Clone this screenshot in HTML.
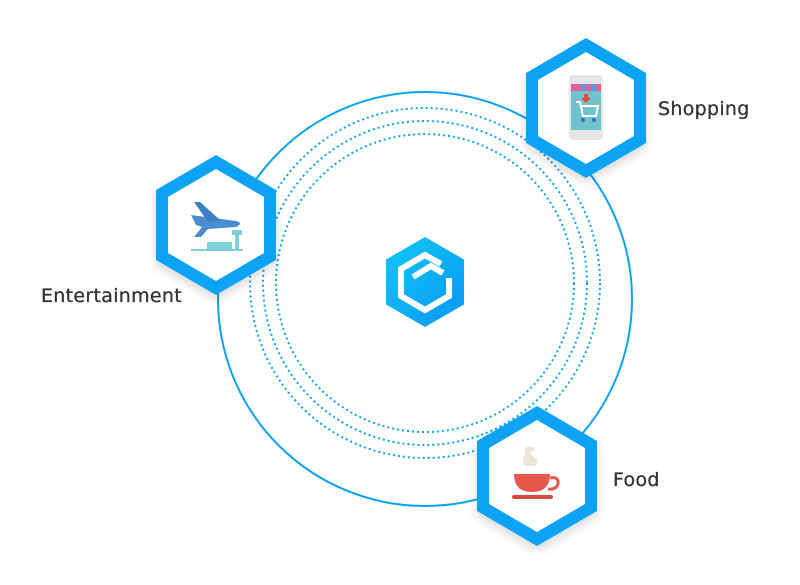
<!DOCTYPE html>
<html><head><style>
body{margin:0;background:#fff;width:800px;height:585px;overflow:hidden;font-family:"DejaVu Sans",sans-serif}
.l{position:absolute;font-size:19px;color:#333;letter-spacing:0.3px;-webkit-text-stroke:0.3px #333}
</style></head><body>
<svg width="800" height="585" style="position:absolute;left:0;top:0">
<defs>
<filter id="sh" x="-30%" y="-30%" width="160%" height="160%"><feDropShadow dx="0" dy="5" stdDeviation="5" flood-color="#000" flood-opacity="0.15"/></filter>
<linearGradient id="g" x1="0" y1="0" x2="1" y2="1"><stop offset="0" stop-color="#12c8f8"/><stop offset="1" stop-color="#0a96f2"/></linearGradient>
</defs>
<circle cx="425" cy="299" r="207" fill="none" stroke="#0aa3f5" stroke-width="2"/>
<g fill="none" stroke="#0aa3f5" stroke-width="2" stroke-dasharray="2 3">
<circle cx="425" cy="283" r="175"/><circle cx="425" cy="283" r="162"/><circle cx="425" cy="283" r="149"/>
</g>
<g transform="translate(425,282)">
<polygon points="0,-45 39,-22.5 39,22.5 0,45 -39,22.5 -39,-22.5" fill="url(#g)"/>
<path d="M16,-18 L0,-27 L-24,-13 L-24,14 L0,28 L24,14 L24,-4" fill="none" stroke="#fff" stroke-width="6"/>
<path d="M-12,-5 L6,-16 L18,-9" fill="none" stroke="#fff" stroke-width="6"/>
</g>
<g filter="url(#sh)">
<polygon transform="translate(216,225)" points="0,-70 60,-35 60,35 0,70 -60,35 -60,-35" fill="#0aa3f5"/>
<polygon transform="translate(586,108)" points="0,-70 60,-35 60,35 0,70 -60,35 -60,-35" fill="#0aa3f5"/>
<polygon transform="translate(537,476)" points="0,-70 60,-35 60,35 0,70 -60,35 -60,-35" fill="#0aa3f5"/>
</g>
<g fill="#fff">
<polygon transform="translate(216,225)" points="0,-56 48,-28 48,28 0,56 -48,28 -48,-28"/>
<polygon transform="translate(586,108)" points="0,-56 48,-28 48,28 0,56 -48,28 -48,-28"/>
<polygon transform="translate(537,476)" points="0,-56 48,-28 48,28 0,56 -48,28 -48,-28"/>
</g>
<g transform="translate(216,225)">
<path d="M-25,-10 L20,-4 Q28,-2 20,2 L-8,4 L-15,12 L-22,12 L-14,2 L-20,0 L-25,-10Z" fill="#4a8ed0"/>
<path d="M-8,-3 L-22,-23 L-16,-23 L4,-5Z" fill="#3d7fc4"/>
<rect x="-25" y="24" width="52" height="2" fill="#7ecfd8"/>
<rect x="-9" y="17" width="25" height="7" fill="#7ecfd8"/>
<rect x="19" y="5" width="4" height="19" fill="#7ecfd8"/>
<rect x="16" y="5" width="10" height="5" fill="#7ecfd8"/>
</g>
<g transform="translate(586,108)">
<rect x="-17" y="-33" width="34" height="65" rx="4" fill="#e6e6e6"/>
<rect x="-15" y="-24" width="30" height="46" fill="#6fc3cc"/>
<rect x="-15" y="-24" width="30" height="7" fill="#e0609a"/>
<rect x="-5" y="-24" width="5" height="7" fill="#5b9bd5"/><rect x="5" y="-24" width="5" height="7" fill="#5b9bd5"/>
<path d="M-2,-14 h4 v4 h3 l-5,5 l-5,-5 h3z" fill="#e24b3b"/>
<path d="M-10,-6 h4 l3,14 h13 l2,-10 h-17" fill="none" stroke="#fff" stroke-width="2"/>
<circle cx="-3" cy="12" r="2" fill="#3a6fc4"/><circle cx="8" cy="12" r="2" fill="#3a6fc4"/>
</g>
<g transform="translate(537,476)">
<path d="M-12,-28 q8,-4 10,2 q-8,2 -2,6 q8,4 2,10 h-10 q-4,-8 0,-12 z" fill="#ede3d8"/>
<path d="M-23,-2 h36 q0,18 -18,18 q-18,0 -18,-18z" fill="#e5584a"/>
<path d="M13,2 q9,-2 8,6 q-2,6 -10,5" fill="none" stroke="#e5584a" stroke-width="3"/>
<rect x="-25" y="19" width="41" height="4" rx="2" fill="#d44a3d"/>
</g>
</svg>
<div class="l" style="left:41px;top:285px">Entertainment</div>
<div class="l" style="left:658px;top:98px">Shopping</div>
<div class="l" style="left:613px;top:469px">Food</div>
</body></html>
